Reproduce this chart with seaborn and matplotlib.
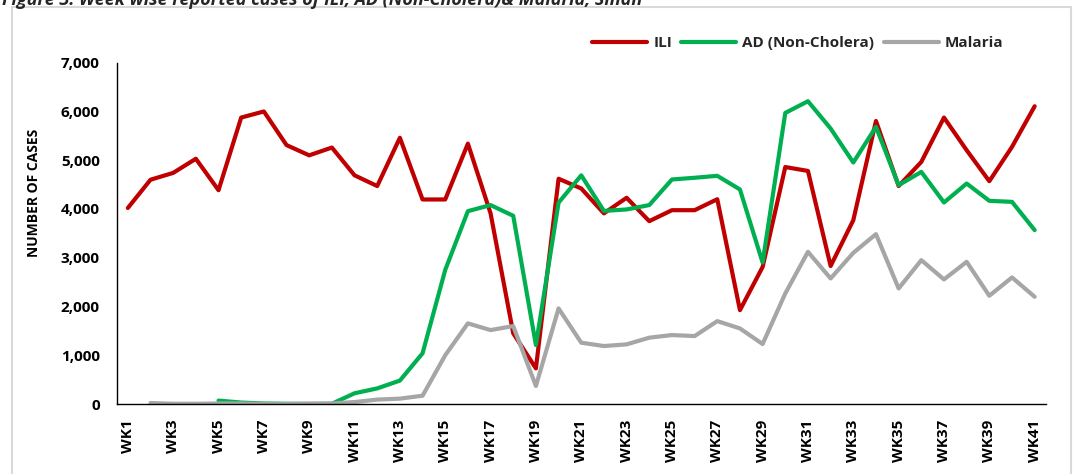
import numpy as np
import pandas as pd
import matplotlib
matplotlib.use("Agg")
import matplotlib.pyplot as plt
import seaborn as sns
from matplotlib.patches import Rectangle

weeks = [f"WK{i}" for i in range(1, 42)]

ili = [4020, 4600, 4740, 5030, 4385, 5875, 6000, 5310, 5100, 5260,
       4690, 4470, 5460, 4195, 4195, 5340, 3910, 1450, 730, 4620,
       4420, 3910, 4230, 3750, 3975, 3975, 4200, 1925, 2810, 4860,
       4780, 2830, 3770, 5805, 4470, 4965, 5875, 5205, 4570, 5273, 6107]

ad_non_cholera = [np.nan, np.nan, np.nan, np.nan, 70, 30, 10, 5, 0, 5,
                  220, 320, 480, 1040, 2750, 3955, 4080, 3860, 1210, 4130,
                  4690, 3960, 3990, 4080, 4605, 4640, 4680, 4400, 2900, 5970,
                  6210, 5650, 4953, 5683, 4488, 4760, 4133, 4522, 4167, 4146, 3566]

malaria = [np.nan, 20, 5, 5, 10, 10, 0, 0, 10, 10,
           40, 90, 110, 170, 1000, 1654, 1516, 1598, 369, 1960,
           1257, 1189, 1223, 1360, 1414, 1393, 1700, 1550, 1230, 2268,
           3121, 2575, 3100, 3484, 2370, 2950, 2555, 2916, 2220, 2596, 2199]

series_names = ["ILI", "AD (Non-Cholera)", "Malaria"]
series_colors = ["#C00000", "#00B050", "#A6A6A6"]

df = pd.DataFrame({
    "pos": list(range(len(weeks))) * 3,
    "cases": ili + ad_non_cholera + malaria,
    "series": [series_names[0]] * len(weeks) + [series_names[1]] * len(weeks)
              + [series_names[2]] * len(weeks),
})

sns.set_theme(style="white")
plt.rcParams["font.family"] = ["Open Sans", "DejaVu Sans"]

fig = plt.figure(figsize=(10.73, 4.74), dpi=100)
ax = fig.add_axes([116.5 / 1073, 1 - 404 / 474, (1046 - 116.5) / 1073, (404 - 62.7) / 474])

# light chart-area frame
fig.patches.append(Rectangle((12 / 1073, -0.05), (1071 - 12) / 1073, 1.05 - 7 / 474,
                             transform=fig.transFigure, fill=False,
                             edgecolor="#D9D9D9", linewidth=1.5, zorder=0))

fig.text(2 / 1073, 1 - 5 / 474,
         "Figure 3: Week wise reported cases of ILI, AD (Non-Cholera)& Malaria, Sindh",
         ha="left", va="baseline", fontsize=13, fontweight="bold", fontstyle="italic")

sns.lineplot(data=df, x="pos", y="cases", hue="series", hue_order=series_names,
             palette=series_colors, linewidth=3.0, ax=ax, legend=False,
             estimator=None, sort=False)
for line in ax.lines:
    line.set_solid_joinstyle("round")
    line.set_solid_capstyle("round")

ax.set_xlim(-0.5, len(weeks) - 0.5)
ax.set_ylim(0, 7000)
ax.set_yticks(range(0, 7001, 1000))
ax.set_yticklabels([f"{v:,}" for v in range(0, 7001, 1000)])

major_pos = list(range(0, len(weeks), 2))
ax.set_xticks(major_pos)
ax.set_xticklabels([weeks[i] for i in major_pos], rotation=90)
ax.set_xticks(np.arange(-0.5, len(weeks), 1.0), minor=True)
ax.tick_params(axis="x", which="major", length=0, pad=11)
ax.tick_params(axis="x", which="minor", length=6, width=1, color="black", direction="out")
ax.tick_params(axis="y", length=6, width=1, color="black", direction="out", pad=6)
for lab in ax.get_xticklabels() + ax.get_yticklabels():
    lab.set_fontweight("bold")
    lab.set_fontsize(11)
    lab.set_color("black")

ax.set_xlabel("")
ax.set_ylabel("NUMBER OF CASES", fontsize=10, fontweight="bold", color="black")
ax.yaxis.set_label_coords((41 - 116.5) / 929.5, (404 - 193) / (404 - 62.7))

for side in ["top", "right"]:
    ax.spines[side].set_visible(False)
for side in ["left", "bottom"]:
    ax.spines[side].set_color("black")
    ax.spines[side].set_linewidth(1.0)

handles = [plt.Line2D([0], [0], color=c, lw=3.0, solid_capstyle="round") for c in series_colors]
fig.legend(handles, series_names, loc="center right", bbox_to_anchor=(1017 / 1073, 1 - 43 / 474),
           ncol=3, frameon=False, handlelength=3.6, handletextpad=0.4, columnspacing=0.6,
           prop={"weight": "bold", "size": 11})

fig.savefig("out.png", dpi=100)
